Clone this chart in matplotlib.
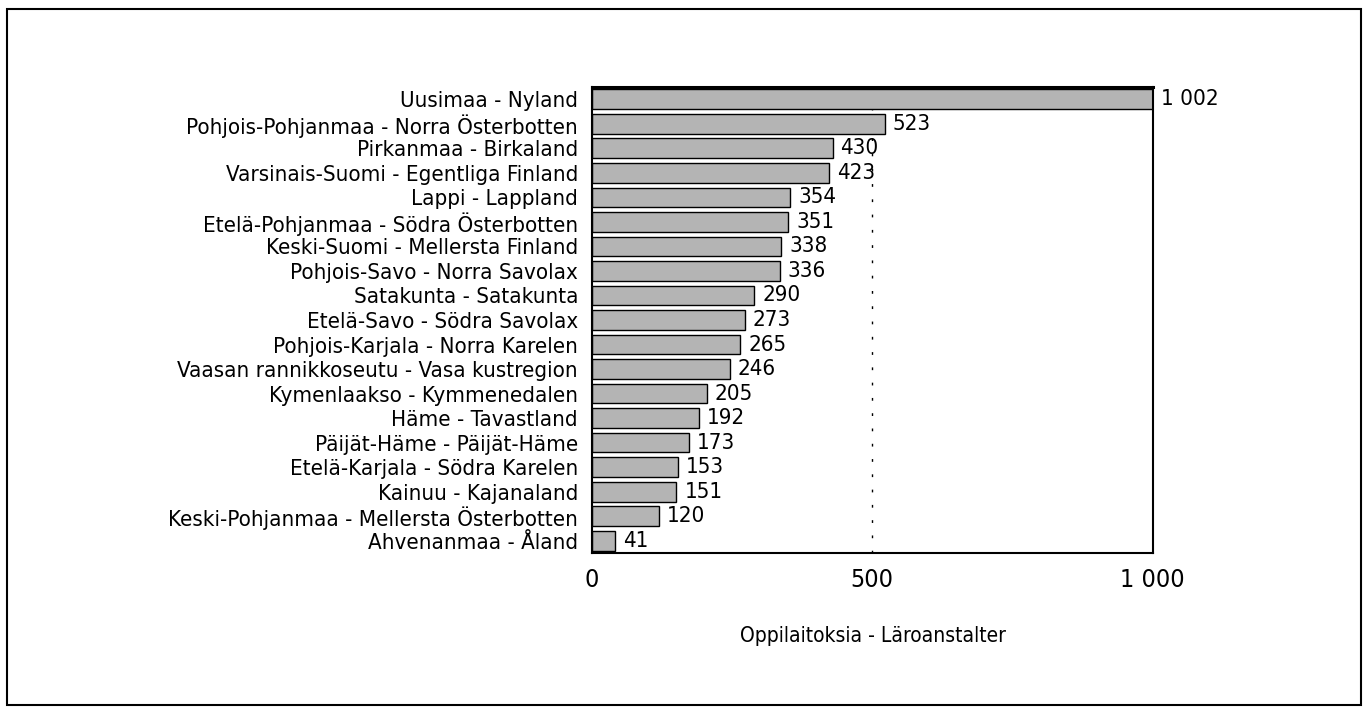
import numpy as np
import matplotlib.pyplot as plt
from matplotlib.patches import Rectangle

regions = ['Uusimaa - Nyland',
           'Pohjois-Pohjanmaa - Norra Österbotten',
           'Pirkanmaa - Birkaland',
           'Varsinais-Suomi - Egentliga Finland',
           'Lappi - Lappland',
           'Etelä-Pohjanmaa - Södra Österbotten',
           'Keski-Suomi - Mellersta Finland',
           'Pohjois-Savo - Norra Savolax',
           'Satakunta - Satakunta',
           'Etelä-Savo - Södra Savolax',
           'Pohjois-Karjala - Norra Karelen',
           'Vaasan rannikkoseutu - Vasa kustregion',
           'Kymenlaakso - Kymmenedalen',
           'Häme - Tavastland',
           'Päijät-Häme - Päijät-Häme',
           'Etelä-Karjala - Södra Karelen',
           'Kainuu - Kajanaland',
           'Keski-Pohjanmaa - Mellersta Österbotten',
           'Ahvenanmaa - Åland']
counts = [1002, 523, 430, 423, 354, 351, 338, 336, 290, 273, 265, 246, 205, 192, 173, 153, 151, 120, 41]
xticks = [0, 500, 1000]
xticklabels = ['0', '500', '1 000']

plt.rcParams['font.family'] = ['DejaVu Sans']
plt.rcParams['font.stretch'] = 'condensed'

fig = plt.figure(figsize=(13.69, 7.10), dpi=100)
ax = fig.add_axes([0.4324, 0.2211, 0.4098, 0.6564])

y = np.arange(len(counts))
ax.barh(y, counts, height=0.8, color='#b4b4b4', edgecolor='black', linewidth=1.0, zorder=2)
for yi, v in zip(y, counts):
    lab = '{:,}'.format(v).replace(',', ' ')
    ax.text(v + 14, yi, lab, va='center', ha='left', fontsize=16)

# dotted guide at 500
ax.axvline(500, color='black', linewidth=1, linestyle=(0, (2, 9)), zorder=1)
ax.set_xlim(0, 1002)
ax.set_ylim(len(counts) - 0.5, -0.5)
ax.set_yticks(y)
ax.set_yticklabels(regions, fontsize=16)
ax.set_xticks(xticks)
ax.set_xticklabels(xticklabels, fontsize=18)
ax.tick_params(length=0, pad=11)
ax.tick_params(axis='y', pad=10)
ax.set_xlabel('Oppilaitoksia - Läroanstalter', fontsize=15, labelpad=24)
for s in ax.spines.values():
    s.set_linewidth(1.5)
ax.spines['top'].set_linewidth(2.2)

fig.patches.append(Rectangle((7 / 1369, 5 / 710), 1354 / 1369, 696 / 710,
                             transform=fig.transFigure, fill=False,
                             edgecolor='black', linewidth=1.5))

fig.savefig('out.png', dpi=100)
